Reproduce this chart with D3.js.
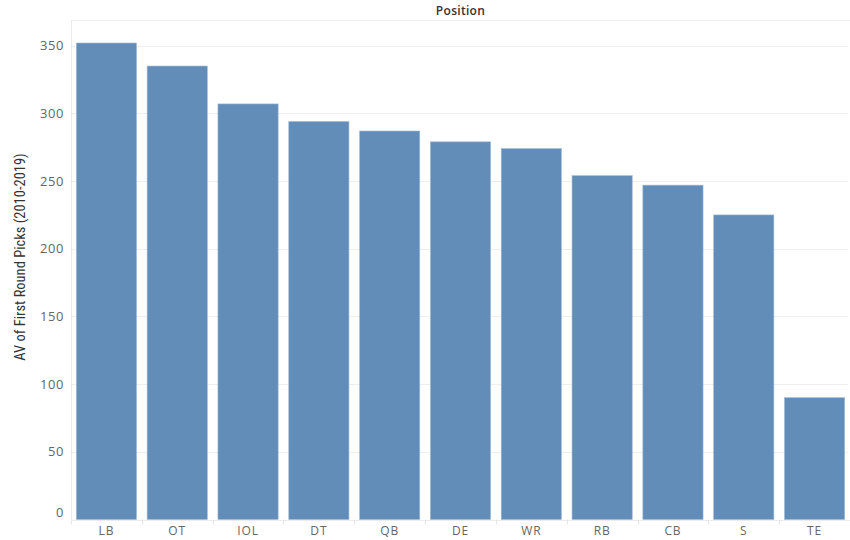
<!DOCTYPE html>
<html><head><meta charset="utf-8">
<script src="https://cdn.jsdelivr.net/npm/d3@7"></script>
<style>body{margin:0;background:#fff}svg{display:block}</style>
</head><body>
<svg id="chart" width="850" height="540"></svg>
<script>
const positions = ["LB","OT","IOL","DT","QB","DE","WR","RB","CB","S","TE"];
const avValues = [352, 335, 307, 294, 287, 279, 274, 254, 247, 225, 90];
const yTicks = [0, 50, 100, 150, 200, 250, 300, 350];
const headerTitle = "Position";
const yTitle = "AV of First Round Picks (2010-2019)";

const svg = d3.select("#chart");
const mLeft = 71, mRight = 850, mTop = 20, mBottom = 519.5;

const x = d3.scaleBand().domain(positions).range([mLeft, mRight]).paddingInner(0.15).paddingOuter(0.075);
const y = d3.scaleLinear().domain([0, 369]).range([mBottom, mTop]);

// gridlines
svg.append("g").selectAll("line").data(yTicks.filter(d => d > 0)).join("line")
  .attr("x1", mLeft).attr("x2", mRight - 2)
  .attr("y1", d => Math.round(y(d)) + 0.5).attr("y2", d => Math.round(y(d)) + 0.5)
  .attr("stroke", "#efefef").attr("stroke-width", 1);

// header line
svg.append("line").attr("x1", mLeft).attr("x2", mRight).attr("y1", 20.5).attr("y2", 20.5)
  .attr("stroke", "#ececec");

// y axis line
svg.append("line").attr("x1", mLeft + 0.5).attr("x2", mLeft + 0.5).attr("y1", 20).attr("y2", mBottom + 3)
  .attr("stroke", "#eaeaea");

// bars
svg.append("g").selectAll("rect").data(positions).join("rect")
  .attr("x", d => x(d)).attr("width", x.bandwidth())
  .attr("y", (d, i) => y(avValues[i])).attr("height", (d, i) => y(0) - y(avValues[i]))
  .attr("fill", "#628db9").attr("stroke", "#9dbad6").attr("stroke-width", 0.6);

// bottom axis line & ticks at band boundaries
svg.append("line").attr("x1", mLeft).attr("x2", mRight).attr("y1", mBottom + 1).attr("y2", mBottom + 1)
  .attr("stroke", "#ececec");
const bounds = positions.map(p => x(p) - x.step() * x.paddingInner() / 2);
svg.append("g").selectAll("line").data(bounds).join("line")
  .attr("x1", d => Math.round(d) + 0.5).attr("x2", d => Math.round(d) + 0.5)
  .attr("y1", mBottom).attr("y2", mBottom + 5).attr("stroke", "#e6e6e6");

// y tick labels
const yAxis = d3.axisLeft(y).tickValues(yTicks).tickSize(4).tickPadding(6);
const ga = svg.append("g").attr("transform", `translate(${mLeft + 3},0)`).call(yAxis);
ga.select(".domain").remove();
ga.selectAll(".tick line").attr("stroke", "#eeeeee");
ga.selectAll(".tick text").attr("fill", "#666").attr("font-size", 13)
  .attr("font-family", "'Open Sans', sans-serif").attr("letter-spacing", "0.6px")
  .attr("dy", d => d === 0 ? "-0.22em" : "0.32em");

// x labels
const xAxis = d3.axisBottom(x).tickSize(0).tickPadding(6);
const gx = svg.append("g").attr("transform", `translate(0,${mBottom + 1})`).call(xAxis);
gx.select(".domain").remove();
gx.selectAll(".tick text").attr("fill", "#666").attr("font-size", 12)
  .attr("font-family", "'Open Sans', sans-serif").attr("letter-spacing", "0.9px");

// header title
svg.append("text").attr("x", (mLeft + mRight) / 2).attr("y", 15).attr("text-anchor", "middle")
  .attr("font-family", "'Open Sans', sans-serif").attr("font-weight", "600").attr("font-size", 12)
  .attr("letter-spacing", "0.3px").attr("fill", "#333").text(headerTitle);

// y title
svg.append("text").attr("transform", "translate(25,257) rotate(-90)").attr("text-anchor", "middle")
  .attr("font-family", "'Liberation Sans Narrow', 'Roboto Condensed', sans-serif").attr("font-size", 14.5)
  .attr("fill", "#333").text(yTitle);
</script>
</body></html>
